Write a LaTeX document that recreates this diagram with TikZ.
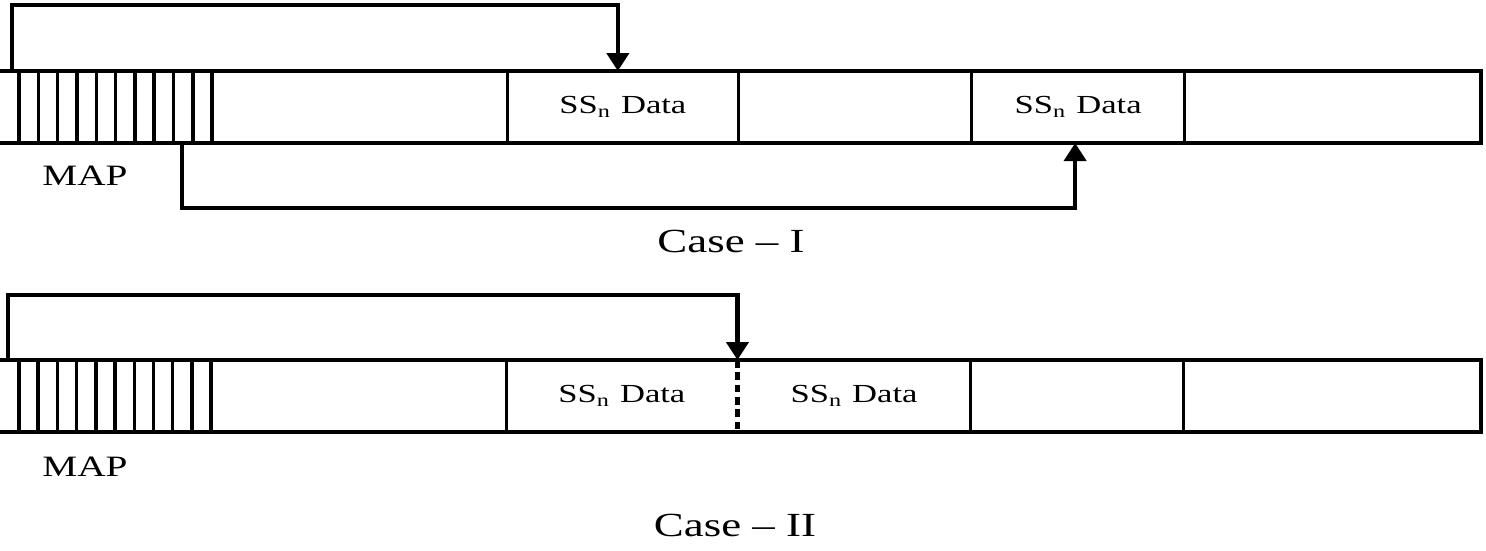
\documentclass[tikz,border=0pt]{standalone}
\usepackage{fontspec}
\setmainfont{Liberation Serif}
\usepackage{graphicx}
\usepackage{tikz}
\usetikzlibrary{arrows.meta,positioning}
\newcommand{\wtext}[1]{\scalebox{1.33}[1]{#1}}
\tikzset{
  cell/.style={draw, line width=1pt, inner sep=0pt, outer sep=0pt,
    minimum height=0.72cm, font=\fontsize{7.4}{9}\selectfont},
  bar/.style={line width=1pt},
  ptr/.style={-{Triangle[length=1.8mm,width=2.2mm]}, line width=1.2pt},
  split/.style={line width=1.2pt, dash pattern=on 2.2pt off 1.3pt},
  maplabel/.style={font=\fontsize{8.4}{10}\selectfont},
  caselabel/.style={font=\fontsize{9.6}{12}\selectfont}
}
\begin{document}
\begin{tikzpicture}[x=0.01cm, y=-0.01cm]
  \path[use as bounding box] (0,0) rectangle (1486,550);
  \clip (0,0) rectangle (1486,550);

  % Case I frame
  \node[cell, anchor=north west, minimum width=2.22cm] (map1) at (-10,71) {};
  \node[cell, minimum width=2.95cm, right=0pt of map1] (c1a) {};
  \node[cell, minimum width=2.31cm, right=0pt of c1a] (sd1a) {\wtext{SS\textsubscript{n} Data}};
  \node[cell, minimum width=2.33cm, right=0pt of sd1a] (c1b) {};
  \node[cell, minimum width=2.13cm, right=0pt of c1b] (sd1b) {\wtext{SS\textsubscript{n} Data}};
  \node[cell, minimum width=2.96cm, right=0pt of sd1b] (c1c) {};
  \foreach \k in {1,...,10}
    \draw[bar] ([xshift=-\k*1.93mm]map1.north east) -- ([xshift=-\k*1.93mm]map1.south east);
  \node[maplabel] (mapl1) at (85,176) {\wtext{MAP}};
  \node[caselabel] (case1) at (731,241) {\wtext{Case -- I}};

  \draw[ptr] ([xshift=2.2mm]map1.north west) |- ([xshift=-0.5mm,yshift=6.6mm]sd1a.north) -- ([xshift=-0.5mm]sd1a.north);
  \draw[ptr] ([xshift=-3mm]map1.south east) |- ([xshift=-0.3mm,yshift=-6.5mm]sd1b.south) -- ([xshift=-0.3mm]sd1b.south);

  % Case II frame
  \node[cell, anchor=north west, minimum width=2.21cm] (map2) at (-10,360) {};
  \node[cell, minimum width=2.95cm, right=0pt of map2] (c2a) {};
  \node[cell, draw=none, minimum width=2.31cm, right=0pt of c2a] (sd2a) {\wtext{SS\textsubscript{n} Data}};
  \node[cell, draw=none, minimum width=2.33cm, right=0pt of sd2a] (sd2b) {\wtext{SS\textsubscript{n} Data}};
  \node[cell, minimum width=2.13cm, right=0pt of sd2b] (c2b) {};
  \node[cell, minimum width=2.97cm, right=0pt of c2b] (c2c) {};
  \draw[bar] (sd2a.north west) -- (sd2b.north east);
  \draw[bar] (sd2a.south west) -- (sd2b.south east);
  \draw[split] (sd2a.north east) -- (sd2a.south east);
  \foreach \k in {1,...,10}
    \draw[bar] ([xshift=-\k*1.92mm]map2.north east) -- ([xshift=-\k*1.92mm]map2.south east);
  \node[maplabel] (mapl2) at (85,467) {\wtext{MAP}};
  \node[caselabel] (case2) at (735,525) {\wtext{Case -- II}};

  \draw[ptr] ([xshift=1.8mm]map2.north west) |- ([yshift=6.5mm]sd2a.north east) -- (sd2a.north east);
\end{tikzpicture}
\end{document}
